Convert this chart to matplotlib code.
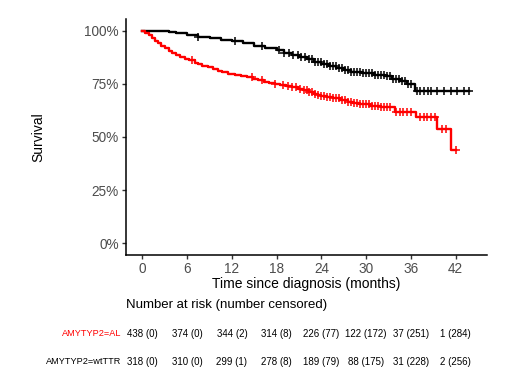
import numpy as np
import matplotlib
matplotlib.use("Agg")
import matplotlib.pyplot as plt
import matplotlib.transforms as mtransforms

plt.rcParams['font.family'] = ['Liberation Sans', 'DejaVu Sans']

# Kaplan-Meier steps (time in months, survival after the drop)
al_times = [0, 0.4, 0.9, 1.3, 1.7, 2.1, 2.5, 3.0, 3.5, 4.0, 4.5, 5.1, 5.7, 6.3, 7.0, 7.5, 8.0,
            8.8, 9.5, 10.1, 10.7, 11.5, 12.4, 13.2, 14.0, 14.8, 15.5, 16.3, 17.0, 17.8, 18.5,
            19.3, 20.0, 20.8, 21.5, 22.3, 23.0, 23.5, 24.0, 24.8, 25.5, 26.5, 27.5, 28.2, 29.0,
            30.5, 32.0, 33.8, 36.7, 39.5, 41.4]
al_surv = [1.0, 0.99, 0.978, 0.966, 0.953, 0.942, 0.93, 0.918, 0.906, 0.896, 0.887, 0.878,
           0.869, 0.86, 0.85, 0.843, 0.836, 0.827, 0.818, 0.811, 0.804, 0.798, 0.793, 0.786,
           0.78, 0.774, 0.768, 0.761, 0.755, 0.75, 0.745, 0.74, 0.734, 0.727, 0.72, 0.711,
           0.703, 0.699, 0.695, 0.689, 0.683, 0.673, 0.663, 0.659, 0.655, 0.648, 0.64, 0.616,
           0.593, 0.539, 0.437]
al_end = 42.0
al_cens = [6.7, 14.7, 16, 17.8, 18.8, 19.5, 20.1, 20.6, 21.1, 21.6, 22, 22.4, 22.8, 23.2, 23.6,
           24, 24.4, 24.8, 25.2, 25.6, 26, 26.4, 26.8, 27.2, 27.6, 28, 28.4, 28.8, 29.2, 29.6,
           30, 30.4, 30.8, 31.2, 31.6, 32, 32.4, 32.8, 33.2, 34, 34.5, 35, 35.5, 36, 37.2,
           37.7, 38.2, 38.7, 39.2, 40.2, 40.7, 42]

tt_times = [0, 3.5, 4.5, 6.0, 7.5, 9.0, 10.5, 12.0, 13.5, 15.0, 16.5, 18.0, 19.0, 20.0, 21.0,
            22.0, 23.0, 24.0, 25.0, 26.0, 27.0, 28.0, 29.5, 31.0, 32.5, 33.5, 34.5, 35.5, 36.5]
tt_surv = [1.0, 0.995, 0.988, 0.98, 0.972, 0.965, 0.958, 0.95, 0.94, 0.93, 0.92, 0.908, 0.897,
           0.885, 0.875, 0.865, 0.853, 0.843, 0.835, 0.825, 0.815, 0.808, 0.8, 0.793, 0.785,
           0.775, 0.765, 0.75, 0.718]
tt_end = 43.8
tt_cens = [7.5, 12.4, 16, 18.3, 19, 19.6, 20.2, 20.8, 21.3, 21.8, 22.3, 22.7, 23.1, 23.5, 23.9,
           24.3, 24.7, 25.1, 25.5, 25.9, 26.3, 26.7, 27.1, 27.5, 28, 28.4, 28.8, 29.2, 29.6, 30,
           30.4, 30.8, 31.2, 31.6, 32, 32.4, 32.8, 33.2, 33.6, 34, 34.4, 34.8, 35.2, 35.6, 36,
           36.8, 37.2, 37.8, 38.3, 38.7, 39.5, 40.5, 41.4, 42.2, 43.1, 43.8]

risk_times = [0, 6, 12, 18, 24, 30, 36, 42]
al_risk = ["438 (0)", "374 (0)", "344 (2)", "314 (8)", "226 (77)", "122 (172)", "37 (251)", "1 (284)"]
tt_risk = ["318 (0)", "310 (0)", "299 (1)", "278 (8)", "189 (79)", "88 (175)", "31 (228)", "2 (256)"]

red = "#FF0000"

fig = plt.figure(figsize=(5.2, 3.9), dpi=100)
ax = fig.add_axes([126/520, 1-255/390, (487-126)/520, (255-19)/390])


def km(ax, times, surv, end, cens, color):
    t = np.append(times, end)
    s = np.append(surv, surv[-1])
    ax.step(t, s, where="post", color=color, lw=1.7)
    idx = np.searchsorted(times, cens, side="right") - 1
    ax.plot(cens, np.array(surv)[idx], ls="none", marker="+", ms=5.5, mew=1.1, color=color)


km(ax, tt_times, tt_surv, tt_end, tt_cens, "black")
km(ax, al_times, al_surv, al_end, al_cens, red)

ax.set_xlim(-2.2, 46.2)
ax.set_ylim(-0.055, 1.055)
ax.set_xticks(risk_times)
ax.set_yticks([0, 0.25, 0.5, 0.75, 1.0])
ax.set_yticklabels(["0%", "25%", "50%", "75%", "100%"])
for s in ["top", "right"]:
    ax.spines[s].set_visible(False)
for s in ["left", "bottom"]:
    ax.spines[s].set_linewidth(1.1)
ax.tick_params(labelsize=9.8, labelcolor="#4D4D4D", length=3, width=1.0, color="#333333", pad=2)
ax.set_xlabel("Time since diagnosis (months)", fontsize=10, labelpad=1)
ax.set_ylabel("Survival", fontsize=10, labelpad=28)

# risk table below the plot
trans = mtransforms.blended_transform_factory(ax.transData, fig.transFigure)
fig.text(126/520, 1-305/390, "Number at risk (number censored)", fontsize=9.5, va="center", ha="left")
fig.text(121/520, 1-334/390, "AMYTYP2=AL", fontsize=6.6, color=red, va="center", ha="right")
fig.text(121/520, 1-362/390, "AMYTYP2=wtTTR", fontsize=6.6, va="center", ha="right")
for t, a, b in zip(risk_times, al_risk, tt_risk):
    ax.text(t, 1-334/390, a, transform=trans, fontsize=7, ha="center", va="center", clip_on=False)
    ax.text(t, 1-362/390, b, transform=trans, fontsize=7, ha="center", va="center", clip_on=False)

fig.savefig("out.png", dpi=100)
